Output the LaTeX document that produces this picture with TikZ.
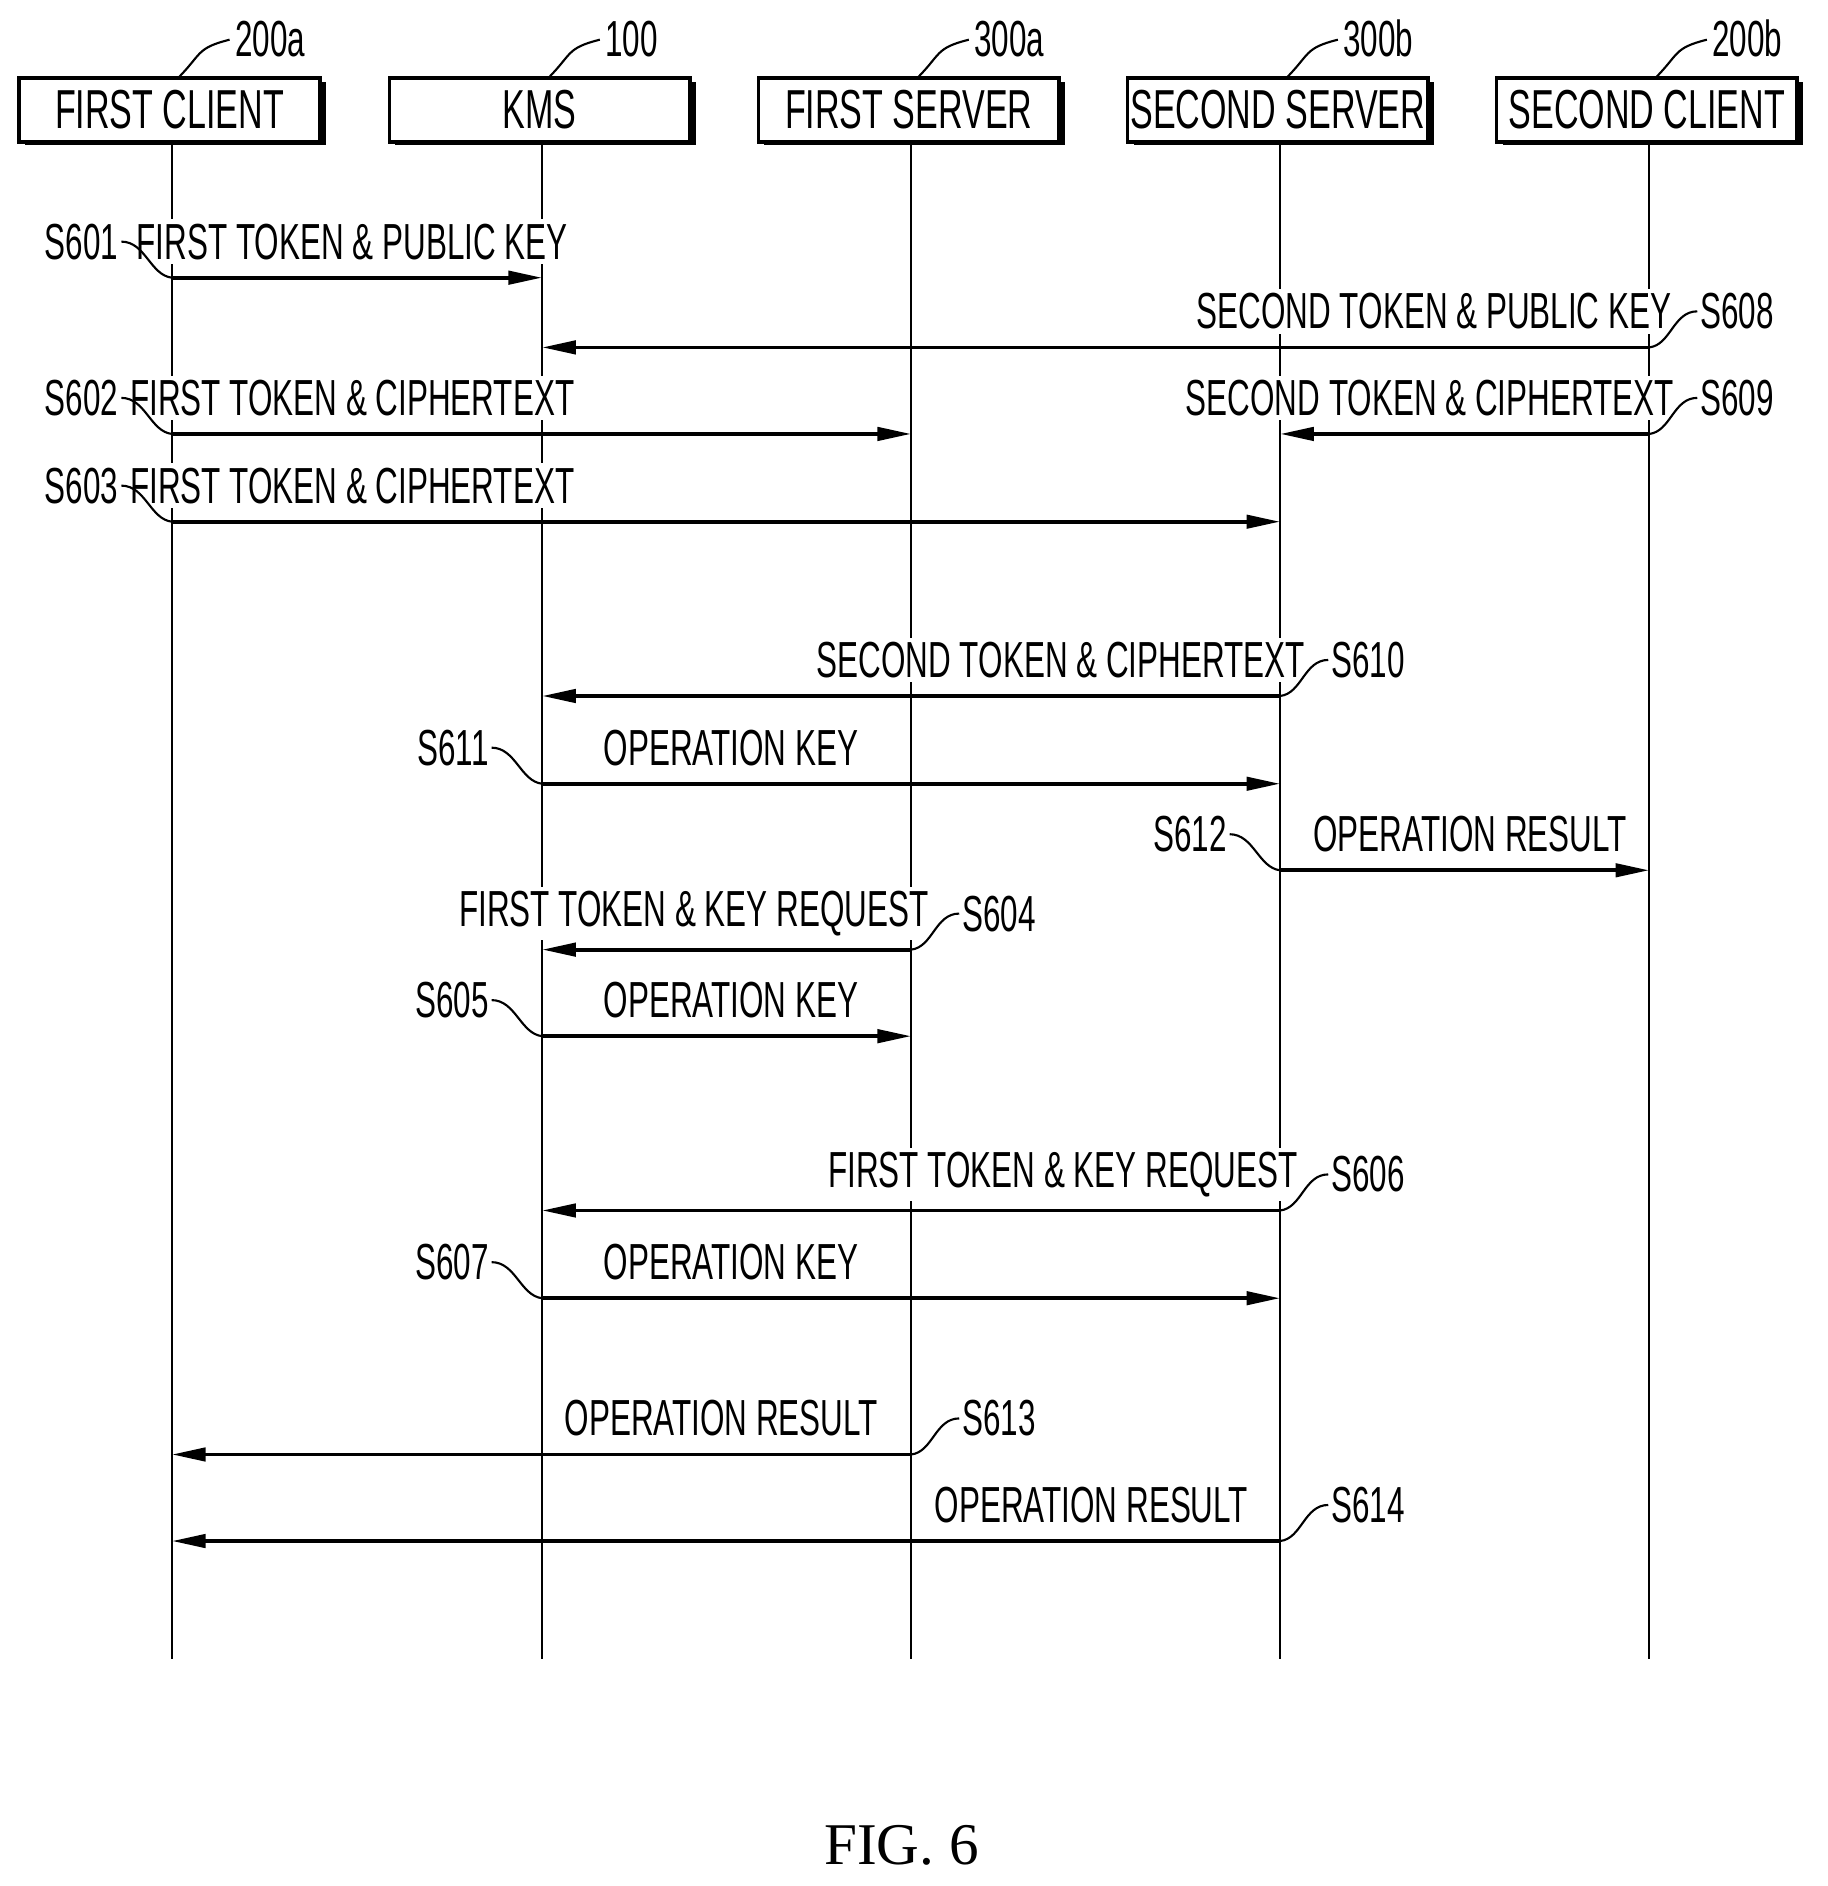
\documentclass[tikz,border=0pt]{standalone}
\usepackage{fontspec}
\setmainfont{Liberation Sans}
\newfontfamily\figfont{Liberation Serif}
\usetikzlibrary{arrows.meta,positioning}
\tikzset{
  ent/.style={draw, line width=0.9pt, minimum width=2.5cm, minimum height=0.53cm, fill=white, inner sep=0pt, font=\fontsize{13}{13}\selectfont},
  txt/.style={font=\fontsize{12}{12}\selectfont, xscale=0.62, fill=white, inner sep=1pt},
  msg/.style={line width=0.9pt, -{Triangle[length=0.28cm,width=0.11cm]}},
  life/.style={line width=0.6pt},
  lead/.style={line width=0.5pt}
}
% message: from, to, y, label x, label anchor, text
\newcommand{\msgline}[6]{%
  \draw[msg] (#1 |- 0,#3) -- (#2 |- 0,#3);
  \node[txt, anchor=#5] (m#3) at (#4,#3+0.3) {#6};}
\begin{document}
\begin{tikzpicture}
\useasboundingbox (0,0) rectangle (15.2,-15.69);
% entities
\foreach \nm/\x/\lab/\rf in {fc/1.43/FIRST CLIENT/200a, kms/4.51/KMS/100, fs/7.58/FIRST SERVER/300a, ss/10.65/SECOND SERVER/300b, sc/13.72/SECOND CLIENT/200b}{
  \fill (\x-1.22,-0.68) rectangle (\x+1.28,-1.21);
  \draw[life] (\x,-1.18) -- (\x,-13.8);
  \node[ent] (\nm) at (\x-0.02,-0.915) {\scalebox{0.62}[1]{\lab}};
  \node[txt, fill=none, anchor=south west] (r\nm) at (\x+0.5,-0.52) {\rf};
  \draw[lead] (\x+0.05,-0.65) .. controls (\x+0.25,-0.45) and (\x+0.2,-0.4) .. (\x+0.48,-0.33);
}
\coordinate (xfc) at (1.43,0);
\coordinate (xkms) at (4.51,0);
\coordinate (xfs) at (7.58,0);
\coordinate (xss) at (10.65,0);
\coordinate (xsc) at (13.72,0);
% messages
\msgline{xfc}{xkms}{-2.31}{2.93}{center}{FIRST TOKEN \& PUBLIC KEY}
\msgline{xsc}{xkms}{-2.89}{13.93}{east}{SECOND TOKEN \& PUBLIC KEY}
\msgline{xfc}{xfs}{-3.61}{2.93}{center}{FIRST TOKEN \& CIPHERTEXT}
\msgline{xsc}{xss}{-3.61}{13.95}{east}{SECOND TOKEN \& CIPHERTEXT}
\msgline{xfc}{xss}{-4.34}{2.93}{center}{FIRST TOKEN \& CIPHERTEXT}
\msgline{xss}{xkms}{-5.79}{10.88}{east}{SECOND TOKEN \& CIPHERTEXT}
\msgline{xkms}{xss}{-6.52}{6.08}{center}{OPERATION KEY}
\msgline{xss}{xsc}{-7.24}{12.23}{center}{OPERATION RESULT}
\msgline{xfs}{xkms}{-7.90}{7.75}{east}{FIRST TOKEN \& KEY REQUEST}
\msgline{xkms}{xfs}{-8.62}{6.08}{center}{OPERATION KEY}
\msgline{xss}{xkms}{-10.07}{10.82}{east}{FIRST TOKEN \& KEY REQUEST}
\msgline{xkms}{xss}{-10.80}{6.08}{center}{OPERATION KEY}
\msgline{xfs}{xfc}{-12.10}{6.00}{center}{OPERATION RESULT}
\msgline{xss}{xfc}{-12.82}{9.08}{center}{OPERATION RESULT}
% step labels, left side
\foreach \lab/\x/\y in {S601/1.43/-2.31, S602/1.43/-3.61, S603/1.43/-4.34, S611/4.51/-6.52, S605/4.51/-8.62, S607/4.51/-10.80, S612/10.65/-7.24}{
  \node[txt, fill=none, anchor=east] (\lab) at (\x-0.42,\y+0.3) {\lab};
  \draw[lead] (\lab.east) .. controls +(0.2,0) and +(-0.18,0.02) .. (\x,\y);
}
% step labels, right side
\foreach \lab/\x/\y in {S608/13.72/-2.89, S609/13.72/-3.61, S610/10.65/-5.79, S604/7.58/-7.90, S606/10.65/-10.07, S613/7.58/-12.10, S614/10.65/-12.82}{
  \node[txt, fill=none, anchor=west] (\lab) at (\x+0.4,\y+0.3) {\lab};
  \draw[lead] (\lab.west) .. controls +(-0.2,0) and +(0.18,0.02) .. (\x,\y);
}
\node[font=\figfont\fontsize{14}{14}\selectfont] (fig) at (7.5,-15.35) {FIG. 6};
\end{tikzpicture}
\end{document}
